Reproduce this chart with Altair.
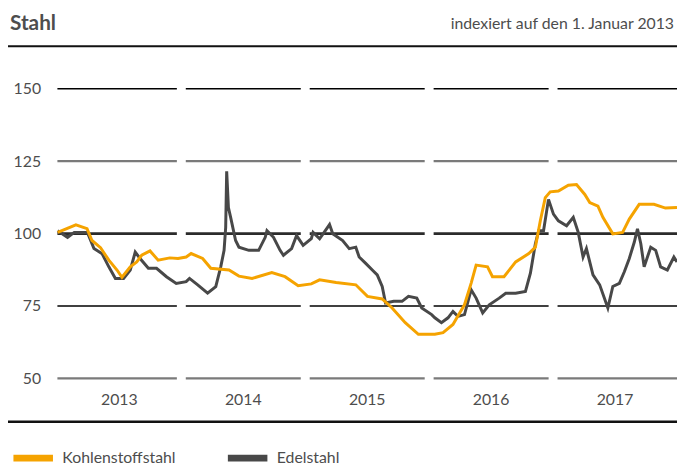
import altair as alt
import pandas as pd

# ---- data ----
years = [2013, 2014, 2015, 2016, 2017]
grid_values = [50, 75, 100, 125, 150]

kohlen_t = [0.002, 0.149, 0.239, 0.279, 0.348, 0.415, 0.481, 0.521, 0.588, 0.640, 0.680, 0.747,
            0.813, 0.907, 0.973, 1.039, 1.079, 1.172, 1.238, 1.385, 1.465, 1.571, 1.730, 1.837,
            1.943, 2.049, 2.116, 2.249, 2.408, 2.502, 2.621, 2.701, 2.807, 2.913, 3.046, 3.112,
            3.192, 3.246, 3.285, 3.339, 3.379, 3.471, 3.511, 3.604, 3.698, 3.804, 3.857, 3.897,
            3.937, 3.977, 4.043, 4.123, 4.189, 4.256, 4.296, 4.362, 4.402, 4.482, 4.561, 4.615,
            4.695, 4.814, 4.907, 5.0]
kohlen_v = [100.4, 103.0, 101.7, 97.6, 95.1, 90.8, 87.4, 84.9, 88.5, 90.2, 92.5, 94.0,
            90.8, 91.6, 91.4, 91.9, 93.1, 91.4, 88.0, 87.4, 85.3, 84.5, 86.5, 85.1,
            82.0, 82.6, 84.0, 83.1, 82.3, 78.3, 77.4, 74.3, 69.2, 65.2, 65.2, 65.8,
            68.6, 72.6, 75.4, 82.9, 89.1, 88.5, 85.1, 85.1, 90.2, 93.1, 95.3, 104.4,
            112.4, 114.4, 114.7, 116.7, 116.9, 113.5, 110.7, 109.5, 105.6, 99.9, 100.4, 105.0,
            110.1, 110.1, 108.8, 109.0]

edel_t = [0.002, 0.082, 0.136, 0.242, 0.295, 0.361, 0.415, 0.468, 0.534, 0.588, 0.628, 0.667,
          0.734, 0.800, 0.880, 0.959, 1.039, 1.066, 1.132, 1.212, 1.278, 1.318, 1.345, 1.358,
          1.366, 1.380, 1.398, 1.438, 1.465, 1.545, 1.624, 1.677, 1.691, 1.744, 1.797, 1.824,
          1.890, 1.930, 1.983, 2.049, 2.063, 2.116, 2.196, 2.222, 2.302, 2.355, 2.408, 2.435,
          2.488, 2.541, 2.581, 2.621, 2.648, 2.714, 2.781, 2.833, 2.900, 2.940, 3.020, 3.046,
          3.099, 3.152, 3.192, 3.232, 3.285, 3.339, 3.379, 3.432, 3.485, 3.565, 3.618, 3.698,
          3.777, 3.817, 3.857, 3.884, 3.923, 3.963, 4.003, 4.043, 4.109, 4.163, 4.203, 4.242,
          4.269, 4.322, 4.376, 4.442, 4.482, 4.535, 4.575, 4.615, 4.655, 4.681, 4.708, 4.735,
          4.788, 4.828, 4.868, 4.922, 4.975, 5.0]
edel_v = [101.0, 98.7, 100.4, 100.4, 94.8, 93.0, 88.5, 84.5, 84.5, 87.4, 93.6, 91.4,
          88.0, 88.0, 85.1, 82.8, 83.4, 84.5, 82.3, 79.4, 81.7, 88.5, 94.2, 102.1,
          121.5, 109.0, 105.6, 97.6, 95.3, 94.2, 94.2, 98.7, 101.0, 98.7, 94.2, 92.5,
          94.8, 99.3, 95.9, 98.2, 100.4, 98.2, 103.1, 99.9, 97.6, 94.8, 95.3, 91.9,
          89.7, 87.4, 85.7, 81.7, 76.0, 76.6, 76.6, 78.3, 77.7, 74.3, 72.0, 70.9,
          69.2, 70.9, 73.1, 71.4, 72.0, 80.6, 77.7, 72.6, 75.4, 77.7, 79.4, 79.4,
          80.0, 86.3, 96.5, 101.0, 101.0, 111.8, 106.7, 104.4, 102.7, 105.6, 100.4, 91.9,
          94.8, 85.7, 82.3, 74.3, 81.7, 82.8, 86.8, 91.4, 97.0, 101.6, 96.5, 88.5,
          95.3, 94.2, 88.5, 87.4, 91.9, 90.2]

series_names = ["Kohlenstoffstahl", "Edelstahl"]
series_colors = ["#F5A300", "#484848"]

title_text = "Stahl"
subtitle_text = "indexiert auf den 1. Januar 2013"

# ---- tables ----
lines = pd.concat([
    pd.DataFrame({"t": [2013 + v for v in edel_t], "value": edel_v, "series": series_names[1]}),
    pd.DataFrame({"t": [2013 + v for v in kohlen_t], "value": kohlen_v, "series": series_names[0]}),
])

gap = 0.036
seg_rows = []
for i, y in enumerate(years):
    start = y if i == 0 else y + gap
    end = y + 1 if i == len(years) - 1 else y + 1 - gap
    for g in grid_values:
        seg_rows.append({"start": start, "end": end, "g": g})
segs = pd.DataFrame(seg_rows)

year_df = pd.DataFrame({"mid": [y + 0.5 for y in years], "label": [str(y) for y in years]})
one = pd.DataFrame({"a": [0]})

W, H = 627, 293
xs = alt.Scale(domain=[2013, 2018], nice=False, zero=False)
ys = alt.Scale(domain=[50, 150], nice=False, zero=False)
FONT = "Lato"
TXT = "#4d4d4d"

def grid(vals, color, width):
    return alt.Chart(segs).transform_filter(
        alt.FieldOneOfPredicate(field="g", oneOf=vals)
    ).mark_rule(color=color, strokeWidth=width).encode(
        x=alt.X("start:Q", scale=xs, axis=None),
        x2="end:Q",
        y=alt.Y("g:Q", scale=ys, axis=alt.Axis(
            values=grid_values, title=None, domain=False, ticks=False, grid=False,
            labelFont=FONT, labelFontSize=16, labelColor=TXT, labelPadding=17,
        )),
    )

g_black = grid([150, 75], "#000000", 1.6)
g_grey = grid([125, 50], "#7a7a7a", 2.2)
g_main = grid([100], "#2b2b2b", 2.8)

year_text = alt.Chart(year_df).mark_text(
    font=FONT, fontSize=16, color=TXT, baseline="middle", align="center"
).encode(x=alt.X("mid:Q", scale=xs), y=alt.value(315), text="label:N")

line_layer = alt.Chart(lines).mark_line(strokeWidth=3, interpolate="linear").encode(
    x=alt.X("t:Q", scale=xs),
    y=alt.Y("value:Q", scale=ys),
    order=alt.Order("t:Q"),
    color=alt.Color("series:N", scale=alt.Scale(domain=series_names, range=series_colors),
                    legend=alt.Legend(
                        title=None, orient="none", legendX=-48, legendY=350,
                        direction="horizontal", symbolType="stroke", symbolStrokeWidth=7,
                        symbolSize=1600, labelFont=FONT, labelFontSize=16, labelColor=TXT,
                        labelOffset=6, columnPadding=38, symbolLimit=0, padding=0,
                    )),
)

title = alt.Chart(one).mark_text(
    text=title_text, font=FONT, fontSize=21, fontWeight="bold", color=TXT,
    align="left", baseline="middle"
).encode(x=alt.value(-48), y=alt.value(-65))

subtitle = alt.Chart(one).mark_text(
    text=subtitle_text, font=FONT, fontSize=16, color=TXT,
    align="right", baseline="middle"
).encode(x=alt.value(624), y=alt.value(-65))

top_rule = alt.Chart(one).mark_rule(color="#111111", strokeWidth=2).encode(
    x=alt.value(-50), x2=alt.value(627), y=alt.value(-43))
bottom_rule = alt.Chart(one).mark_rule(color="#111111", strokeWidth=2.5).encode(
    x=alt.value(-50), x2=alt.value(627), y=alt.value(337))

chart = alt.layer(
    g_black, g_grey, g_main, year_text, line_layer, title, subtitle, top_rule, bottom_rule
).properties(
    width=W, height=H,
    autosize=alt.AutoSizeParams(type="none"),
    padding={"left": 50, "top": 79, "right": 0, "bottom": 88},
).configure_view(stroke=None)

chart.save("out.html", embed_options={"renderer": "svg", "actions": False})
